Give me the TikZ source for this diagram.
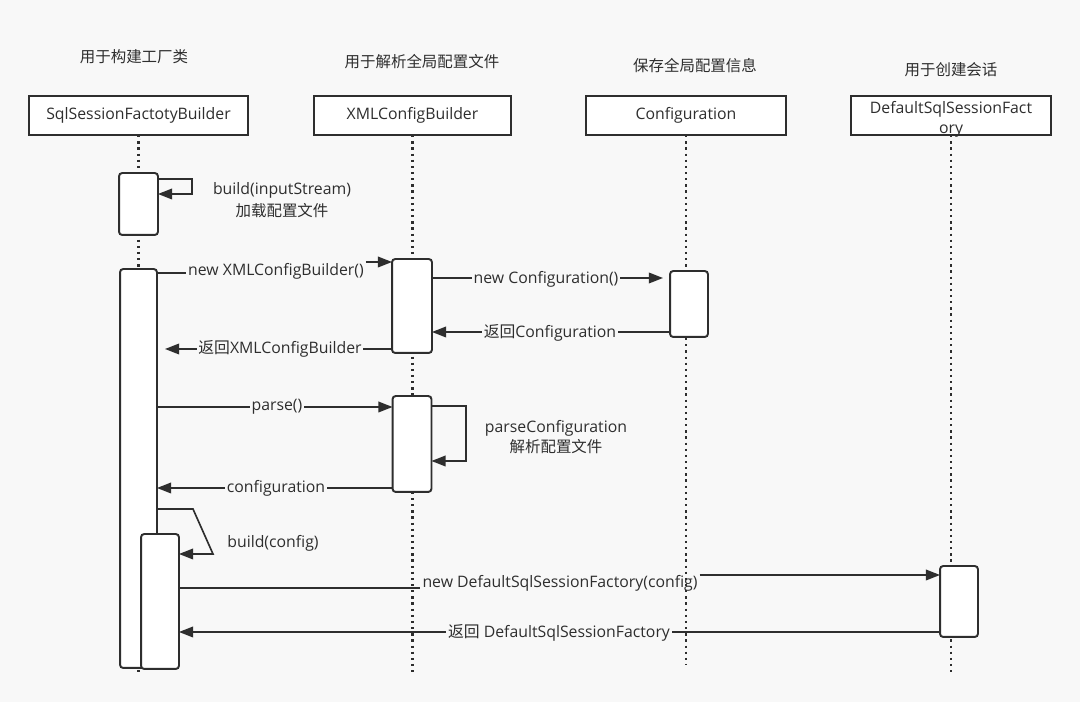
\documentclass[tikz,border=0pt]{standalone}
\usepackage{fontspec}
\setmainfont{Open Sans}
\newfontfamily\cjk{Noto Sans CJK SC}
\usetikzlibrary{arrows.meta}
\newdimen\pxu \pxu=0.02cm
\definecolor{bgc}{HTML}{F8F8F8}
\definecolor{ink}{HTML}{2E2E2E}
\begin{document}
\begin{tikzpicture}[x=0.02cm,y=-0.02cm, font=\fontsize{9}{10.8}\selectfont, text=ink,
 headbox/.style={draw=ink, line width=1.3pt, fill=white, minimum height=37\pxu, inner sep=0pt},
 act/.style={draw=ink, line width=1.1pt, fill=white, rounded corners=1.8pt, inner sep=0pt},
 life/.style={draw=ink, line width=1.4pt, dash pattern=on 1.3pt off 2.2pt},
 msg/.style={draw=ink, line width=0.95pt, -{Triangle[length=8pt,width=6pt]}},
 plain/.style={draw=ink, line width=0.95pt},
 lbl/.style={fill=bgc, inner sep=1pt},
 note/.style={align=center, inner sep=0pt}]
\fill[bgc] (0,0) rectangle (1080,702);
\useasboundingbox (0,0) rectangle (1080,702);

% titles
\node[font=\fontsize{8.8}{10.5}\selectfont] (t1) at (134,57) {\cjk 用于构建工厂类};
\node[font=\fontsize{8.8}{10.5}\selectfont] (t2) at (422,62) {\cjk 用于解析全局配置文件};
\node[font=\fontsize{8.8}{10.5}\selectfont] (t3) at (695,66) {\cjk 保存全局配置信息};
\node[font=\fontsize{8.8}{10.5}\selectfont] (t4) at (951,70) {\cjk 用于创建会话};

% header boxes (geometry)
\path (138.5,115.5) node[headbox, minimum width=217\pxu] (h1) {};
\path (412.5,115.5) node[headbox, minimum width=195\pxu] (h2) {};
\path (686,115.5) node[headbox, minimum width=198\pxu] (h3) {};
\path (951,115.5) node[headbox, minimum width=198\pxu] (h4) {};

% lifeline ends
\coordinate (e1) at (138.5,672);
\coordinate (e2) at (412.5,672);
\coordinate (e3) at (686,665);
\coordinate (e4) at (951,672);

% activation boxes (positions only, drawn later)
\path (138.5,204) node[act, draw=none, fill=none, minimum width=37\pxu, minimum height=60\pxu] (a1) {};
\path (138.5,468.5) node[act, draw=none, fill=none, minimum width=35\pxu, minimum height=397\pxu] (a2) {};
\path (160,601.5) node[act, draw=none, fill=none, minimum width=36\pxu, minimum height=133\pxu] (a3) {};
\path (412,306) node[act, draw=none, fill=none, minimum width=38\pxu, minimum height=92\pxu] (x1) {};
\path (412,444) node[act, draw=none, fill=none, minimum width=37\pxu, minimum height=94\pxu] (x2) {};
\path (689,304) node[act, draw=none, fill=none, minimum width=36\pxu, minimum height=64\pxu] (c1) {};
\path (959,601.5) node[act, draw=none, fill=none, minimum width=36\pxu, minimum height=69\pxu] (d1) {};

% messages
\draw[msg] (a1.east |- 0,179) -- (192,179) -- (192,194) -- (a1.east |- 0,194);
\node[note] (n1) at (282,200) {build(inputStream)\\[2pt]{\cjk\fontsize{8.8}{10.5}\selectfont 加载配置文件}};

\node[lbl] (l2) at (276,271) {new XMLConfigBuilder()};
\draw[plain] (a2.east |- 0,273) -- (l2.west |- 0,273);
\draw[msg] (l2.east |- 0,262) -- (x1.west |- 0,262);

\draw[msg] (x1.east |- 0,278) -- (663,278);
\node[lbl] (l3) at (546,279) {new Configuration()};

\draw[msg] (c1.west |- 0,332) -- (x1.east |- 0,332);
\node[lbl] (l4) at (550,333) {{\cjk 返回}Configuration};

\draw[msg] (x1.west |- 0,349) -- (165,349);
\node[lbl] (l5) at (280,349) {{\cjk 返回}XMLConfigBuilder};

\draw[msg] (a2.east |- 0,407) -- (x2.west |- 0,407);
\node[lbl] (l6) at (277,407) {parse()};

\draw[msg] (x2.east |- 0,406) -- (466,406) -- (466,461) -- (x2.east |- 0,461);
\node[note] (n7) at (556,437) {parseConfiguration\\[1pt]{\cjk\fontsize{8.8}{10.5}\selectfont 解析配置文件}};

\draw[msg] (x2.west |- 0,488) -- (a2.east |- 0,488);
\node[lbl] (l8) at (276,488) {configuration};

\draw[msg] (a2.east |- 0,509) -- (193,509) -- (213,554) -- (a3.east |- 0,554);
\node[note] (n9) at (273,543) {build(config)};

\node[lbl] (l10) at (560,583) {new DefaultSqlSessionFactory(config)};
\draw[plain] (a3.east |- 0,588) -- (l10.west |- 0,588);
\draw[msg] (l10.east |- 0,575) -- (d1.west |- 0,575);

\draw[msg] (d1.west |- 0,632) -- (a3.east |- 0,632);
\node[lbl] (l11) at (559,633) {{\cjk 返回} DefaultSqlSessionFactory};

% lifelines
\draw[life] (h1.south) -- (e1);
\draw[life] (h2.south) -- (e2);
\draw[life] (h3.south) -- (e3);
\draw[life] (h4.south) -- (e4);

% activation boxes drawn
\foreach \b in {a1,a2,a3,x1,x2,c1,d1}{
  \draw[draw=ink, line width=1.1pt, fill=white, rounded corners=1.8pt] (\b.south west) rectangle (\b.north east);
}

% header boxes drawn with text
\draw[draw=ink, line width=1.3pt, fill=white] (h1.south west) rectangle (h1.north east);
\draw[draw=ink, line width=1.3pt, fill=white] (h2.south west) rectangle (h2.north east);
\draw[draw=ink, line width=1.3pt, fill=white] (h3.south west) rectangle (h3.north east);
\draw[draw=ink, line width=1.3pt, fill=white] (h4.south west) rectangle (h4.north east);
\node at (h1.center) {SqlSessionFactotyBuilder};
\node at (h2.center) {XMLConfigBuilder};
\node at (h3.center) {Configuration};
\node[align=center, font=\fontsize{9}{11.3}\selectfont] at (951,119) {DefaultSqlSessionFact\\ory};
\end{tikzpicture}
\end{document}
